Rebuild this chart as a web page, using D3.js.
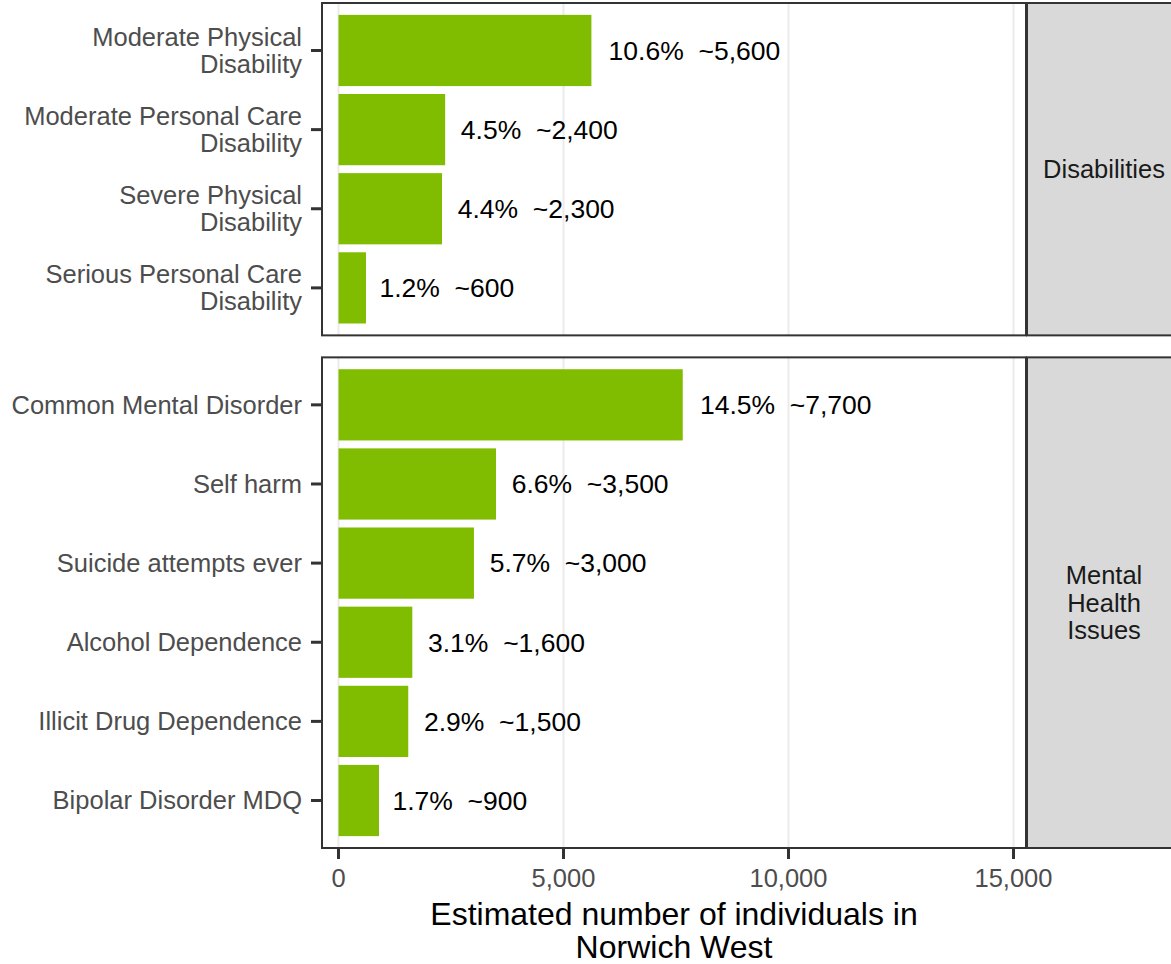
<!DOCTYPE html>
<html>
<head>
<meta charset="utf-8">
<script src="https://cdn.jsdelivr.net/npm/d3@7"></script>
<style>
  html, body { margin: 0; padding: 0; background: #fff; }
  svg { display: block; }
  text { font-family: "Liberation Sans", Arial, Helvetica, sans-serif; }
</style>
</head>
<body>
<svg id="chart" width="1171" height="964"></svg>
<script>
// ---- data ----
const facetNames = ["Disabilities", "Mental Health Issues"];
const facetLines = [["Disabilities"], ["Mental", "Health", "Issues"]];
const categories = [
  "Moderate Physical Disability",
  "Moderate Personal Care Disability",
  "Severe Physical Disability",
  "Serious Personal Care Disability",
  "Common Mental Disorder",
  "Self harm",
  "Suicide attempts ever",
  "Alcohol Dependence",
  "Illicit Drug Dependence",
  "Bipolar Disorder MDQ"
];
const categoryLines = [
  ["Moderate Physical", "Disability"],
  ["Moderate Personal Care", "Disability"],
  ["Severe Physical", "Disability"],
  ["Serious Personal Care", "Disability"],
  ["Common Mental Disorder"],
  ["Self harm"],
  ["Suicide attempts ever"],
  ["Alcohol Dependence"],
  ["Illicit Drug Dependence"],
  ["Bipolar Disorder MDQ"]
];
const facetOf = [0, 0, 0, 0, 1, 1, 1, 1, 1, 1];
const values = [5620, 2370, 2300, 610, 7650, 3500, 3010, 1640, 1550, 900];
const pctLabels = ["10.6", "4.5", "4.4", "1.2", "14.5", "6.6", "5.7", "3.1", "2.9", "1.7"];
const countLabels = ["5,600", "2,400", "2,300", "600", "7,700", "3,500", "3,000", "1,600", "1,500", "900"];
const xTicks = [0, 5000, 10000, 15000];
const xTitle = ["Estimated number of individuals in", "Norwich West"];

// ---- layout ----
const svg = d3.select("#chart");
const panelLeft = 322, panelRight = 1026;
const stripRight = 1181;
const panelTop = 3, panelBottom = 848, panelGap = 22;
const barColor = "#80bd00";
const borderColor = "#333333";

const x = d3.scaleLinear().domain([-367, 15278]).range([panelLeft, panelRight]);

// facet heights proportional to number of categories (+ expansion)
const counts = facetNames.map((f, i) => facetOf.filter(v => v === i).length);
const units = counts.map(c => c + 0.2);
const totalH = panelBottom - panelTop - panelGap;
const unitPx = totalH / d3.sum(units);
const facetY = [];
let cy = panelTop;
units.forEach((u, i) => { facetY.push([cy, cy + u * unitPx]); cy += u * unitPx + panelGap; });

const data = categories.map((c, i) => ({
  cat: c, lines: categoryLines[i], facet: facetOf[i], value: values[i],
  label: pctLabels[i] + "%  ~" + countLabels[i]
}));

facetNames.forEach((fname, fi) => {
  const [y0, y1] = facetY[fi];
  const rows = data.filter(d => d.facet === fi);
  const y = d3.scaleBand().domain(rows.map(d => d.cat)).range([y0, y1])
    .paddingInner(0.1).paddingOuter(0.15);

  const g = svg.append("g");
  // panel background
  g.append("rect").attr("x", panelLeft).attr("y", y0)
    .attr("width", panelRight - panelLeft).attr("height", y1 - y0).attr("fill", "#fff");
  // gridlines
  g.selectAll("line.grid").data(xTicks).join("line")
    .attr("x1", d => x(d)).attr("x2", d => x(d)).attr("y1", y0).attr("y2", y1)
    .attr("stroke", "#ebebeb").attr("stroke-width", 2);
  // bars
  g.selectAll("rect.bar").data(rows).join("rect")
    .attr("x", x(0)).attr("y", d => y(d.cat))
    .attr("width", d => x(d.value) - x(0)).attr("height", y.bandwidth())
    .attr("fill", barColor);
  // bar labels (hjust = -0.1)
  const lbl = g.selectAll("text.lbl").data(rows).join("text")
    .attr("y", d => y(d.cat) + y.bandwidth() / 2)
    .attr("dy", "0.35em")
    .attr("font-size", 26.5).attr("fill", "#000")
    .style("white-space", "pre")
    .text(d => d.label);
  lbl.attr("x", function(d) { return x(d.value) + 0.1 * this.getComputedTextLength(); });
  // panel border
  g.append("rect").attr("x", panelLeft).attr("y", y0)
    .attr("width", panelRight - panelLeft).attr("height", y1 - y0)
    .attr("fill", "none").attr("stroke", borderColor).attr("stroke-width", 2);
  // y axis ticks
  g.selectAll("line.ytick").data(rows).join("line")
    .attr("x1", panelLeft - 11).attr("x2", panelLeft)
    .attr("y1", d => y(d.cat) + y.bandwidth() / 2).attr("y2", d => y(d.cat) + y.bandwidth() / 2)
    .attr("stroke", borderColor).attr("stroke-width", 3);
  // y axis labels
  const lineH = 27;
  rows.forEach(d => {
    const cyc = y(d.cat) + y.bandwidth() / 2;
    const n = d.lines.length;
    const t = g.append("text").attr("text-anchor", "end").attr("font-size", 25.5)
      .attr("fill", "#4d4d4d");
    d.lines.forEach((ln, li) => {
      t.append("tspan").attr("x", panelLeft - 20)
        .attr("y", cyc + (li - (n - 1) / 2) * lineH).attr("dy", "0.35em").text(ln);
    });
  });
  // strip
  g.append("rect").attr("x", panelRight + 1).attr("y", y0)
    .attr("width", stripRight - panelRight - 1).attr("height", y1 - y0)
    .attr("fill", "#d9d9d9").attr("stroke", borderColor).attr("stroke-width", 2);
  const sc = (panelRight + 1 + stripRight) / 2;
  const sm = (y0 + y1) / 2;
  const st = g.append("text").attr("text-anchor", "middle").attr("font-size", 25.5)
    .attr("fill", "#1a1a1a");
  const sl = facetLines[fi];
  sl.forEach((ln, li) => {
    st.append("tspan").attr("x", sc).attr("y", sm + (li - (sl.length - 1) / 2) * 27.5)
      .attr("dy", "0.35em").text(ln);
  });
});

// x axis (bottom)
const axisG = svg.append("g");
axisG.selectAll("line.xtick").data(xTicks).join("line")
  .attr("x1", d => x(d)).attr("x2", d => x(d))
  .attr("y1", panelBottom).attr("y2", panelBottom + 11)
  .attr("stroke", borderColor).attr("stroke-width", 3);
axisG.selectAll("text.xtl").data(xTicks).join("text")
  .attr("x", d => x(d)).attr("y", 887)
  .attr("text-anchor", "middle").attr("font-size", 25.5).attr("fill", "#4d4d4d")
  .text(d => d3.format(",")(d));
const titleX = (panelLeft + panelRight) / 2;
xTitle.forEach((ln, i) => {
  svg.append("text").attr("x", titleX).attr("y", 925 + i * 33)
    .attr("text-anchor", "middle").attr("font-size", 32).attr("fill", "#000").text(ln);
});
</script>
</body>
</html>
